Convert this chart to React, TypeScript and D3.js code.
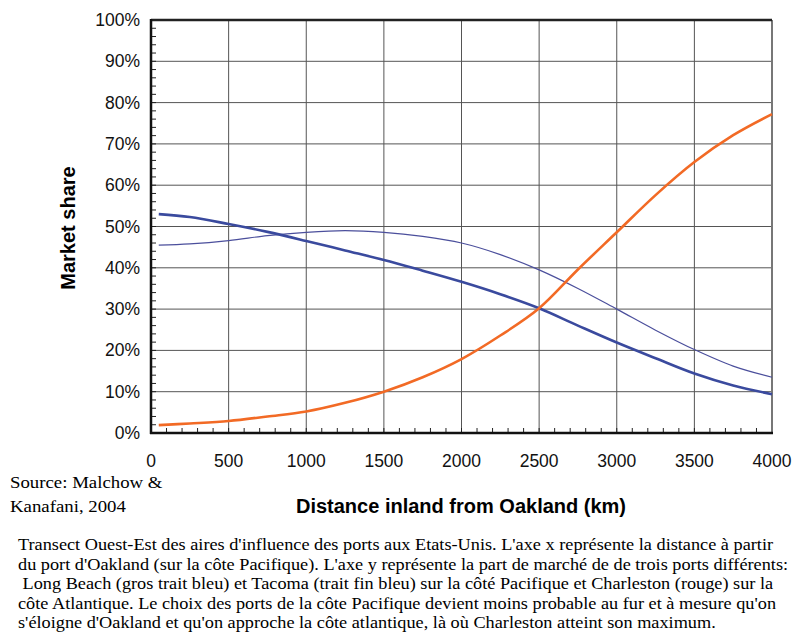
import { useEffect, useRef } from "react";
import * as d3 from "d3";

const distance = [50, 250, 500, 750, 1000, 1250, 1500, 1750, 2000, 2250, 2500, 2750, 3000, 3250, 3500, 3750, 4000];
const longBeach = [53.0, 52.3, 50.6, 48.7, 46.5, 44.2, 41.9, 39.3, 36.6, 33.6, 30.2, 26.0, 21.9, 18.1, 14.4, 11.5, 9.4];
const tacoma = [45.5, 45.8, 46.6, 47.8, 48.6, 49.0, 48.6, 47.6, 46.0, 43.2, 39.5, 35.0, 30.0, 24.9, 20.2, 16.2, 13.5];
const charleston = [1.9, 2.3, 2.9, 4.0, 5.2, 7.3, 10.0, 13.5, 17.9, 23.6, 30.2, 39.6, 48.6, 57.6, 65.6, 72.1, 77.2];

const xTicks = [0, 500, 1000, 1500, 2000, 2500, 3000, 3500, 4000];
const yTicks = [0, 10, 20, 30, 40, 50, 60, 70, 80, 90, 100];

const caption = [
  "Transect Ouest-Est des aires d'influence des ports aux Etats-Unis. L'axe x représente la distance à partir",
  "du port d'Oakland (sur la côte Pacifique). L'axe y représente la part de marché de de trois ports différents:",
  " Long Beach (gros trait bleu) et Tacoma (trait fin bleu) sur la côté Pacifique et Charleston (rouge) sur la",
  "côte Atlantique. Le choix des ports de la côte Pacifique devient moins probable au fur et à mesure qu'on",
  "s'éloigne d'Oakland et qu'on approche la côte atlantique, là où Charleston atteint son maximum.",
];

const W = 792;
const H = 633;
const left = 151;
const right = 772;
const top = 20;
const bottom = 433;

export default function App() {
  const svgRef = useRef<SVGSVGElement>(null);

  useEffect(() => {
    if (!svgRef.current) return;
    const svg = d3.select(svgRef.current);
    svg.selectAll("*").remove();

    const x = d3.scaleLinear().domain([0, 4000]).range([left, right]);
    const y = d3.scaleLinear().domain([0, 100]).range([bottom, top]);
    const sans = "'Liberation Sans', Arial, sans-serif";
    const serif = "'Liberation Serif', 'Times New Roman', serif";

    // grid
    const grid = svg.append("g").attr("stroke", "#555").attr("stroke-width", 1);
    xTicks.slice(1, -1).forEach((t) => {
      grid.append("line").attr("x1", x(t)).attr("x2", x(t)).attr("y1", top).attr("y2", bottom);
    });
    yTicks.slice(1, -1).forEach((t) => {
      grid.append("line").attr("x1", left).attr("x2", right).attr("y1", y(t)).attr("y2", y(t));
    });

    // minor ticks, pointing inward
    const ticks = svg.append("g").attr("stroke", "#222").attr("stroke-width", 1);
    d3.range(0, 101, 2).forEach((t) => {
      ticks.append("line").attr("x1", left).attr("x2", left + 5).attr("y1", y(t)).attr("y2", y(t));
    });
    d3.range(0, 4001, 100).forEach((t) => {
      ticks.append("line").attr("x1", x(t)).attr("x2", x(t)).attr("y1", bottom).attr("y2", bottom - 5);
    });

    // frame
    svg.append("line").attr("x1", right).attr("x2", right).attr("y1", top).attr("y2", bottom)
      .attr("stroke", "#777").attr("stroke-width", 2);
    svg.append("line").attr("x1", left).attr("x2", right).attr("y1", top).attr("y2", top)
      .attr("stroke", "#222").attr("stroke-width", 2.5);
    svg.append("line").attr("x1", left).attr("x2", left).attr("y1", top - 1).attr("y2", bottom + 1)
      .attr("stroke", "#111").attr("stroke-width", 2.5);
    svg.append("line").attr("x1", left - 1).attr("x2", right + 1).attr("y1", bottom).attr("y2", bottom)
      .attr("stroke", "#111").attr("stroke-width", 2.5);

    // lines
    const line = (vals: number[]) =>
      d3.line<number>()
        .x((_, i) => x(distance[i]))
        .y((d) => y(d))
        .curve(d3.curveCatmullRom.alpha(0.5))(vals);

    svg.append("path").attr("d", line(tacoma)).attr("fill", "none")
      .attr("stroke", "#4b4f9c").attr("stroke-width", 1.2);
    svg.append("path").attr("d", line(longBeach)).attr("fill", "none")
      .attr("stroke", "#3a4a9e").attr("stroke-width", 2.6);
    svg.append("path").attr("d", line(charleston)).attr("fill", "none")
      .attr("stroke", "#f26a25").attr("stroke-width", 2.6);

    // tick labels
    yTicks.forEach((t) => {
      svg.append("text").attr("x", 140).attr("y", y(t) + 6).attr("text-anchor", "end")
        .attr("font-family", sans).attr("font-size", 17.5).attr("fill", "#111").text(`${t}%`);
    });
    xTicks.forEach((t) => {
      svg.append("text").attr("x", x(t)).attr("y", 467).attr("text-anchor", "middle")
        .attr("font-family", sans).attr("font-size", 17.5).attr("fill", "#111").text(t);
    });

    // axis titles
    svg.append("text").attr("transform", "translate(75,228) rotate(-90)").attr("text-anchor", "middle")
      .attr("font-family", sans).attr("font-size", 20).attr("font-weight", "bold").text("Market share");
    svg.append("text").attr("x", 461).attr("y", 513).attr("text-anchor", "middle")
      .attr("font-family", sans).attr("font-size", 20).attr("font-weight", "bold")
      .text("Distance inland from Oakland (km)");

    // source
    ["Source: Malchow &", "Kanafani, 2004"].forEach((s, i) => {
      svg.append("text").attr("transform", `translate(10,${488 + i * 24}) scale(1.14,1)`)
        .attr("font-family", serif).attr("font-size", 16.5).text(s);
    });

    // caption
    caption.forEach((s, i) => {
      svg.append("text").attr("transform", `translate(18,${550 + i * 19.5}) scale(1.142,1)`)
        .attr("xml:space", "preserve").style("white-space", "pre")
        .attr("font-family", serif).attr("font-size", 16).text(s);
    });
  }, []);

  return (
    <div style={{ position: "absolute", left: 0, top: 0 }}>
      <svg ref={svgRef} width={W} height={H} style={{ display: "block", background: "#fff" }} />
    </div>
  );
}
